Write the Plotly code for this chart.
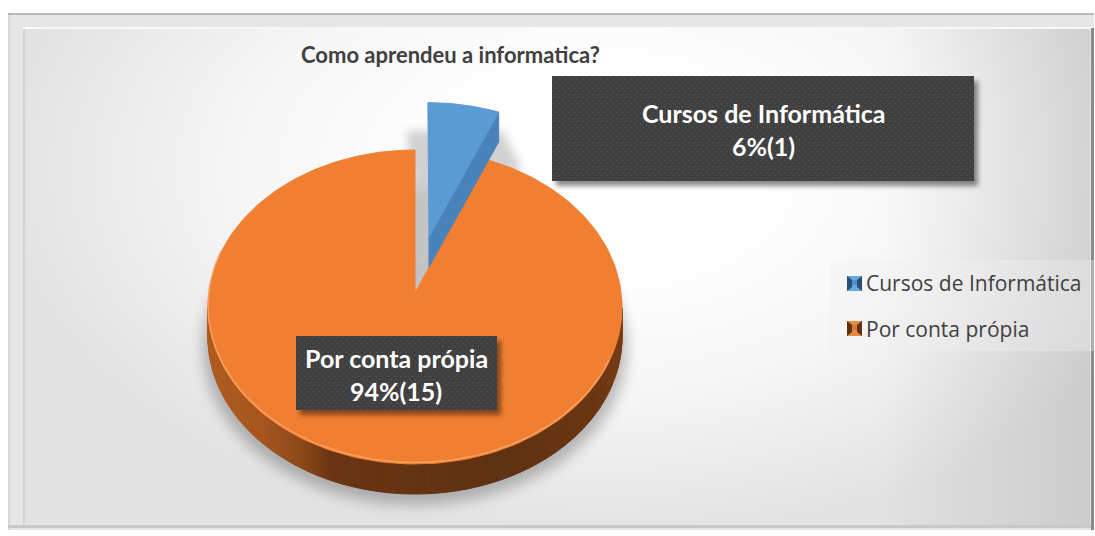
"""Pie "Como aprendeu a informatica?" drawn as a tilted 3D disc on hidden pixel axes."""
import base64
import numpy as np
import plotly.graph_objects as go

categories = ["Cursos de Informática", "Por conta própia"]
counts = [1, 15]
percent_labels = ["6%(1)", "94%(15)"]
chart_title = "Como aprendeu a informatica?"

W, H = 1095, 536

# ellipse of the top face and the perspective shift of the disc centre
CX, CY, RX, RY = 415, 307, 207, 157
K = 0.089
DEPTH = 30
EXPLODE = (0.07, 0.372)  # offset of the small slice, in disc units

BLUE, BLUE_SIDE = "#5b9bd5", "#4a83ba"
ORANGE = "#f07f32"
# wall colour by screen x
WALL_X = [208, 260, 300, 330, 500, 600, 622]
WALL_C = [(176, 92, 32), (168, 86, 30), (142, 74, 26), (107, 54, 19),
          (95, 50, 18), (109, 56, 20), (122, 62, 20)]


def project(u, v):
    """Disc coordinates to page pixels."""
    den = 1 + K * v
    x = CX + RX * u * np.sqrt(1 - K ** 2) / den
    y = CY - RY * (v + K) / den
    return x, y


def arc(start, end, n=120):
    t = np.radians(np.linspace(start, end, n))
    return np.sin(t), np.cos(t)


def svg_uri(body):
    svg = (f'<svg xmlns="http://www.w3.org/2000/svg" width="{W}" height="{H}" '
           f'viewBox="0 0 {W} {H}">{body}</svg>')
    return "data:image/svg+xml;base64," + base64.b64encode(svg.encode()).decode()


def full_page_image(body, layer):
    return dict(source=svg_uri(body), xref="paper", yref="paper", x=0, y=1,
                sizex=1, sizey=1, sizing="stretch", xanchor="left", yanchor="top",
                layer=layer)


def polygon(x, y, color, name=None):
    return go.Scatter(x=x, y=y, mode="lines", fill="toself", fillcolor=color,
                      line=dict(color=color, width=1), showlegend=False,
                      name=name or "", hoverinfo="skip" if name is None else "name")


# slice angles come from the counts
small_angle = 360 * counts[0] / sum(counts)

fig = go.Figure()

# orange wall, one strip per step so the shading can change along it
wu, wv = arc(small_angle + 60, 300, 220)
wx, wy = project(wu, wv)
first, last = int(np.argmax(wx)), int(np.argmin(wx))
wx, wy = wx[first:last + 1], wy[first:last + 1]
for i in range(len(wx) - 1):
    mid = (wx[i] + wx[i + 1]) / 2
    rgb = [int(np.interp(mid, WALL_X, [c[j] for c in WALL_C])) for j in range(3)]
    fig.add_trace(polygon(
        [wx[i], wx[i + 1], wx[i + 1], wx[i], wx[i]],
        [wy[i], wy[i + 1], wy[i + 1] + DEPTH, wy[i] + DEPTH, wy[i]],
        f"rgb({rgb[0]},{rgb[1]},{rgb[2]})",
    ))

# orange top face
ou, ov = arc(small_angle, 360, 240)
ox, oy = project(np.r_[0, ou, 0], np.r_[0, ov, 0])
fig.add_trace(polygon(ox, oy, ORANGE, categories[1]))

# light rim on the front edge
ru, rv = arc(115, 285, 120)
rx, ry = project(ru, rv)
fig.add_trace(go.Scatter(x=rx, y=ry - 1.5, mode="lines", showlegend=False, hoverinfo="skip",
                         line=dict(color="rgba(250,170,115,0.75)", width=1.5)))

# small slice pulled out of the disc
bu, bv = arc(0, small_angle, 30)
bx, by = project(np.r_[0, bu, 0] + EXPLODE[0], np.r_[0, bv, 0] + EXPLODE[1])
apex_x, apex_y = bx[0], by[0]
edge_x, edge_y = bx[-2], by[-2]
fig.add_trace(polygon(
    [apex_x, edge_x, edge_x, apex_x, apex_x],
    [apex_y, edge_y, edge_y + DEPTH, apex_y + DEPTH, apex_y],
    BLUE_SIDE,
))
fig.add_trace(polygon(bx, by, BLUE, categories[0]))

# legend entries, their swatches are in the overlay
for name in categories:
    fig.add_trace(go.Scatter(x=[None], y=[None], mode="markers", name=name, legendgroup=name,
                             marker=dict(symbol="square", size=12, color="rgba(0,0,0,0)")))

backdrop = f"""
<defs>
<radialGradient id="bg" gradientUnits="userSpaceOnUse" cx="0" cy="0" r="1"
 gradientTransform="translate(600 170) scale(600 370)">
<stop offset="0.25" stop-color="#ffffff"/><stop offset="0.6" stop-color="#f6f6f6"/>
<stop offset="1" stop-color="#e2e2e2"/></radialGradient>
<linearGradient id="rs" gradientUnits="userSpaceOnUse" x1="880" y1="0" x2="1090" y2="0">
<stop offset="0" stop-color="#000000" stop-opacity="0"/>
<stop offset="1" stop-color="#000000" stop-opacity="0.1"/></linearGradient>
<filter id="b8" x="-20%" y="-20%" width="140%" height="140%"><feGaussianBlur stdDeviation="7"/></filter>
<filter id="b4" x="-20%" y="-20%" width="140%" height="140%"><feGaussianBlur stdDeviation="4"/></filter>
</defs>
<rect width="{W}" height="{H}" fill="#ffffff"/>
<rect x="8" y="13" width="1086" height="517" fill="#e6e6e6"/>
<rect x="8" y="13" width="1086" height="2" fill="#b9b9b9"/>
<rect x="8" y="15" width="2" height="515" fill="#d6d6d6"/>
<rect x="8" y="525" width="1086" height="3" fill="#c8c8c8"/>
<rect x="23" y="27" width="1070" height="2" fill="#f8f8f8"/>
<rect x="23" y="29" width="1067" height="496" fill="url(#bg)"/>
<rect x="23" y="29" width="1067" height="496" fill="url(#rs)"/>
<rect x="23" y="29" width="2" height="496" fill="#d2d2d2"/>
<rect x="1091" y="28" width="3" height="502" fill="#8a8a8a"/>
<rect x="830" y="260" width="265" height="91" fill="#f0f0f0" opacity="0.35"/>
<ellipse cx="415" cy="347" rx="212" ry="158" fill="#000000" opacity="0.25" filter="url(#b8)"/>
<polygon points="407,131 503,131 521,168 415,300" fill="#c6c6c6" opacity="0.8" filter="url(#b4)"/>
"""


def swatch(x, y, light, mid, dark):
    return f"""
<rect x="{x}" y="{y}" width="15" height="15" fill="{mid}"/>
<polygon points="{x},{y} {x+15},{y} {x+10},{y+4} {x+5},{y+4}" fill="{light}"/>
<polygon points="{x},{y+15} {x+15},{y+15} {x+10},{y+9} {x+5},{y+9}" fill="{light}"/>
<polygon points="{x},{y} {x+5},{y+4} {x+5},{y+11} {x},{y+15}" fill="{dark}"/>
<polygon points="{x+15},{y} {x+10},{y+4} {x+10},{y+11} {x+15},{y+15}" fill="{dark}"/>"""


overlay = f"""
<defs>
<pattern id="dots" width="6" height="6" patternUnits="userSpaceOnUse">
<rect width="6" height="6" fill="#404040"/>
<circle cx="1.5" cy="1.5" r="0.7" fill="#545454"/><circle cx="4.5" cy="4.5" r="0.7" fill="#545454"/>
</pattern>
<filter id="sh" x="-10%" y="-20%" width="120%" height="140%"><feGaussianBlur stdDeviation="2.5"/></filter>
</defs>
<rect x="556" y="81" width="422" height="105" fill="#000000" opacity="0.45" filter="url(#sh)"/>
<rect x="552" y="76" width="422" height="105" fill="url(#dots)"/>
<rect x="300" y="341" width="201" height="74" fill="#000000" opacity="0.45" filter="url(#sh)"/>
<rect x="296" y="336" width="201" height="74" fill="url(#dots)"/>
{swatch(847, 276, "#6aa7de", "#4f8fcc", "#2a4f74")}
{swatch(847, 321, "#e98a47", "#d9752f", "#5e3212")}
"""

fig.add_annotation(x=450, y=54, text=f"<b>{chart_title}</b>", showarrow=False,
                   font=dict(family="Lato", size=22, color="#404040"))
for cx, y0, name, pct, size in [(763, 113, categories[0], percent_labels[0], 25),
                                (396, 358, categories[1], percent_labels[1], 25)]:
    fig.add_annotation(x=cx, y=y0, text=f"<b>{name}</b>", showarrow=False,
                       font=dict(family="Lato", size=size, color="#ffffff"))
    fig.add_annotation(x=cx, y=y0 + 33, text=f"<b>{pct}</b>", showarrow=False,
                       font=dict(family="Lato", size=size, color="#ffffff"))

fig.update_layout(
    width=W,
    height=H,
    margin=dict(l=0, r=0, t=0, b=0),
    paper_bgcolor="rgba(0,0,0,0)",
    plot_bgcolor="rgba(0,0,0,0)",
    xaxis=dict(range=[0, W], visible=False, fixedrange=True),
    yaxis=dict(range=[H, 0], visible=False, fixedrange=True),
    images=[full_page_image(backdrop, "below"), full_page_image(overlay, "above")],
    showlegend=True,
    legend=dict(x=826 / W, y=1 - 263 / H, xanchor="left", yanchor="top",
                bgcolor="rgba(0,0,0,0)", tracegroupgap=15,
                font=dict(family="Open Sans", size=21, color="#404040")),
)

fig.write_html("out.html", config=dict(displayModeBar=False),
               post_script="document.body.style.margin='0';document.body.style.overflow='hidden';")
